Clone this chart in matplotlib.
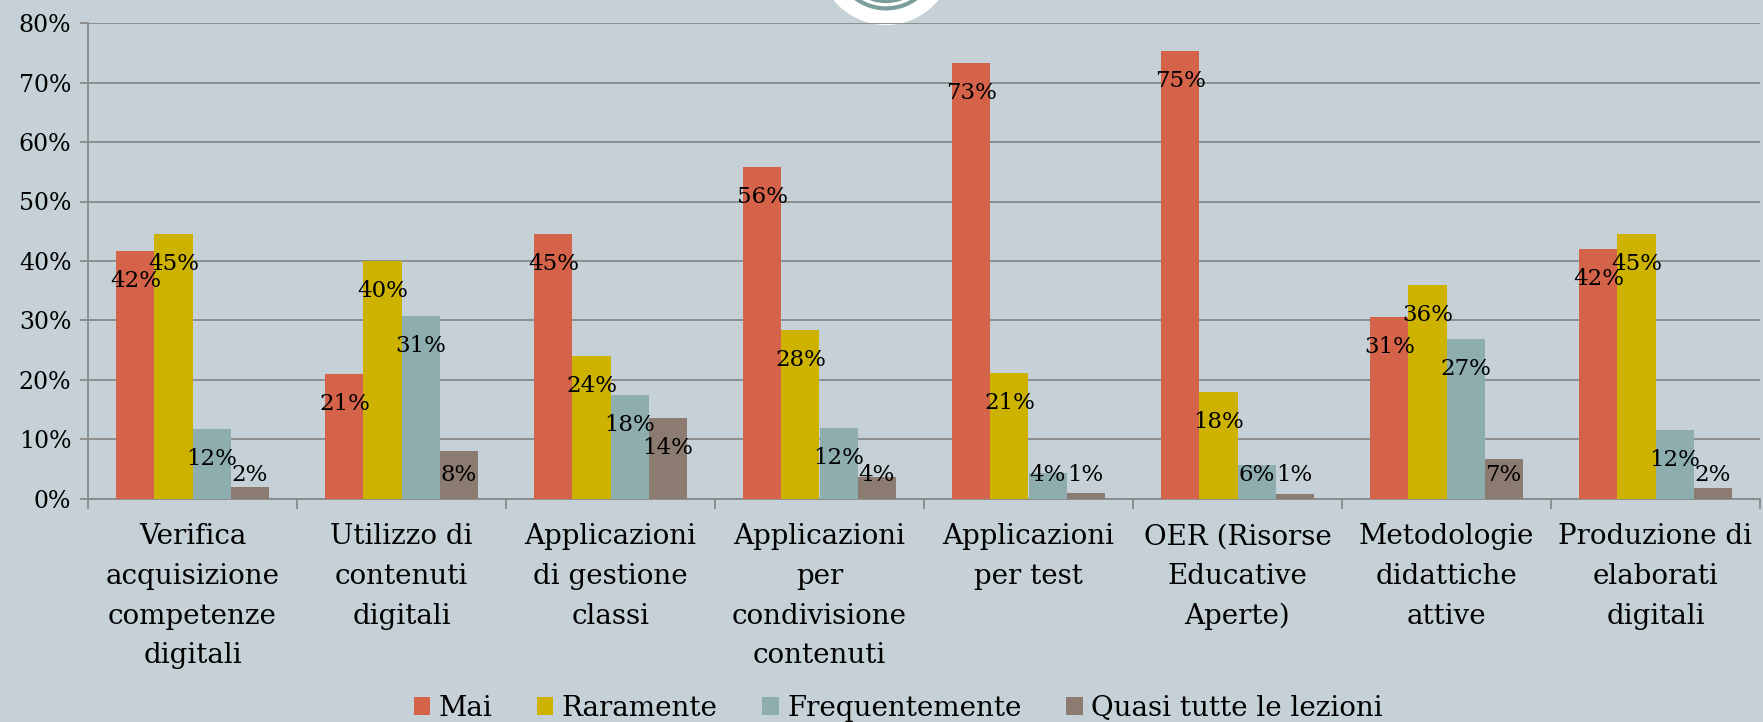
import numpy as np
import matplotlib
matplotlib.use('Agg')
from matplotlib import pyplot as plt
from matplotlib.patches import Circle

categories = ['Verifica\nacquisizione\ncompetenze\ndigitali',
              'Utilizzo di\ncontenuti\ndigitali',
              'Applicazioni\ndi gestione\nclassi',
              'Applicazioni\nper\ncondivisione\ncontenuti',
              'Applicazioni\nper test',
              'OER (Risorse\nEducative\nAperte)',
              'Metodologie\ndidattiche\nattive',
              'Produzione di\nelaborati\ndigitali']
series_names = ['Mai', 'Raramente', 'Frequentemente', 'Quasi tutte le lezioni']
mai = [41.7, 21.0, 44.6, 55.8, 73.4, 75.4, 30.6, 42.0]
raramente = [44.6, 40.0, 24.0, 28.3, 21.1, 18.0, 36.0, 44.6]
frequentemente = [11.7, 30.8, 17.5, 11.8, 4.3, 5.7, 26.8, 11.5]
quasi_tutte = [1.9, 8.0, 13.5, 3.6, 0.85, 0.7, 6.6, 1.7]
colors = ['#D4634A', '#CDB300', '#8DADAE', '#8C7B70']

bg = '#C5D1D7'
grid_col = '#898989'
plt.rcParams['font.family'] = ['DejaVu Serif']

fig = plt.figure(figsize=(17.63, 7.22), dpi=100, facecolor=bg)
ax = fig.add_axes([88 / 1763, 1 - 498.5 / 722, 1672 / 1763, 475.2 / 722])
ax.set_facecolor('none')

# logo peeking in from the top edge (pixel coordinates)
fig.patches.append(Circle((886, 722 + 42.6), 67.6, transform=None, facecolor='white',
                          edgecolor='none', zorder=-2))
for r, lw in [(51, 3.0), (44, 2.5)]:
    fig.patches.append(Circle((886, 722 + 42.6), r, transform=None, facecolor='none',
                              edgecolor='#7B9E9C', linewidth=lw, zorder=-1))

x = np.arange(len(categories))
w = 0.182
all_series = [mai, raramente, frequentemente, quasi_tutte]
for i, (vals, name, c) in enumerate(zip(all_series, series_names, colors)):
    pos = x + (i - 1.5) * w
    ax.bar(pos, vals, width=w, color=c, label=name, zorder=3)
    for xp, v in zip(pos, vals):
        ly = max(v - 5.05, 3.95)
        ax.text(xp, ly, '{}%'.format(int(round(v))), ha='center', va='center',
                fontsize=16.5, color='black', zorder=4)

ax.set_xlim(-0.5, len(categories) - 0.5)
ax.set_ylim(0, 80)
ax.set_yticks(np.arange(0, 81, 10))
ax.set_yticklabels(['{}%'.format(v) for v in range(0, 81, 10)], fontsize=17)
ax.yaxis.grid(True, color=grid_col, linewidth=1.3, zorder=0)
ax.set_axisbelow(True)
ax.tick_params(axis='y', length=6, width=1.3, color=grid_col, pad=6)

ax.set_xticks(x)
ax.set_xticklabels(categories, fontsize=20, linespacing=1.6)
ax.set_xticks(np.arange(-0.5, len(categories), 1), minor=True)
ax.tick_params(axis='x', which='major', length=0, pad=18)
ax.tick_params(axis='x', which='minor', length=7, width=1.3, color=grid_col)

for s in ['top', 'right']:
    ax.spines[s].set_visible(False)
for s in ['left', 'bottom']:
    ax.spines[s].set_color(grid_col)
    ax.spines[s].set_linewidth(1.3)

fig.legend(loc='center', bbox_to_anchor=(898 / 1763, 1 - 708 / 722), ncol=4,
           frameon=False, fontsize=20, handlelength=0.6, handleheight=0.62,
           handletextpad=0.3, columnspacing=1.6, borderpad=0)

fig.savefig('out.png', dpi=100, facecolor=bg)
